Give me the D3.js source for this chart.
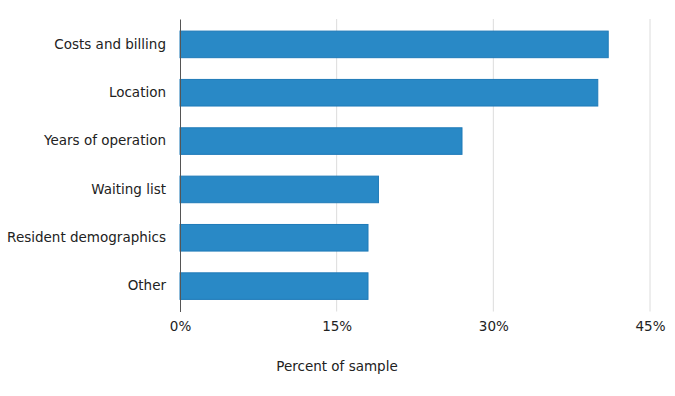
<!DOCTYPE html>
<html>
<head>
<meta charset="utf-8">
<script src="https://cdn.jsdelivr.net/npm/d3@7"></script>
<style>
  body { margin: 0; background: #fff; }
  text { font-family: "DejaVu Sans", Verdana, sans-serif; fill: #222; }
</style>
</head>
<body>
<div id="chart"></div>
<script>
// data
const categories = ["Costs and billing", "Location", "Years of operation", "Waiting list", "Resident demographics", "Other"];
const values = [41, 40, 27, 19, 18, 18];
const tickValues = [0, 15, 30, 45];
const axisTitle = "Percent of sample";

const width = 675, height = 396;
const margin = { top: 19, right: 25, bottom: 84.5, left: 180 };
const fontSize = 13.5;

const svg = d3.select("#chart").append("svg")
  .attr("width", width)
  .attr("height", height);

const x = d3.scaleLinear().domain([0, 45]).range([margin.left, width - margin.right]);
const y = d3.scaleBand()
  .domain(categories)
  .range([margin.top, height - margin.bottom])
  .paddingInner(0.45)
  .paddingOuter(0.25);

// vertical gridlines
svg.append("g")
  .selectAll("line")
  .data(tickValues.slice(1))
  .join("line")
  .attr("x1", d => x(d)).attr("x2", d => x(d))
  .attr("y1", margin.top).attr("y2", height - margin.bottom)
  .attr("stroke", "#dcdcdc")
  .attr("stroke-width", 1);

// bars
svg.append("g")
  .selectAll("rect")
  .data(values)
  .join("rect")
  .attr("x", x(0))
  .attr("y", (d, i) => y(categories[i]))
  .attr("width", d => x(d) - x(0))
  .attr("height", y.bandwidth())
  .attr("fill", "#2989c6")
  .attr("stroke", "#1f7ab8")
  .attr("stroke-width", 1);

// y axis
const yAxis = svg.append("g")
  .attr("transform", `translate(${margin.left},0)`)
  .call(d3.axisLeft(y).tickSize(0).tickPadding(14));
yAxis.select(".domain").attr("stroke", "#555");
yAxis.selectAll("text").attr("font-size", fontSize);

// x axis
const xAxis = svg.append("g")
  .attr("transform", `translate(0,${height - margin.bottom})`)
  .call(d3.axisBottom(x).tickValues(tickValues).tickSize(0).tickPadding(10).tickFormat(d => d + "%"));
xAxis.select(".domain").remove();
xAxis.selectAll("text").attr("font-size", fontSize);

svg.append("text")
  .attr("x", (x(0) + x(45)) / 2 - 78)
  .attr("y", 371)
  .attr("text-anchor", "middle")
  .attr("font-size", fontSize)
  .text(axisTitle);
</script>
</body>
</html>
